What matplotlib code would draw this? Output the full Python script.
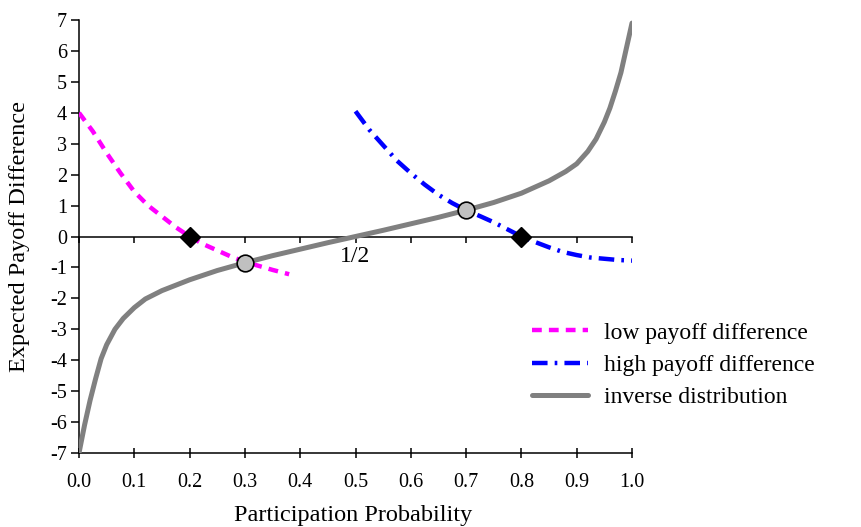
import numpy as np
import matplotlib
matplotlib.use('Agg')
import matplotlib.pyplot as plt

plt.rcParams['font.family'] = ['Liberation Serif', 'DejaVu Serif']

# inverse distribution
inv_x = [0.0, 0.01, 0.02, 0.03, 0.04, 0.05, 0.065, 0.08, 0.1, 0.12, 0.15, 0.2, 0.25, 0.3, 0.35, 0.4, 0.45,
         0.5, 0.55, 0.6, 0.65, 0.7, 0.75, 0.8, 0.85, 0.88, 0.9, 0.92, 0.935, 0.95, 0.96, 0.97, 0.98, 0.99, 1.0]
inv_y = [-7.0, -6.1, -5.3, -4.6, -3.95, -3.5, -3.0, -2.65, -2.3, -2.02, -1.75, -1.4, -1.1, -0.85, -0.62, -0.41, -0.2,
         0.0, 0.2, 0.41, 0.62, 0.85, 1.1, 1.4, 1.8, 2.1, 2.35, 2.75, 3.15, 3.7, 4.15, 4.7, 5.3, 6.1, 6.9]

# low payoff difference
low_x = [0.0, 0.025, 0.05, 0.075, 0.1, 0.125, 0.15, 0.175, 0.2, 0.225, 0.25, 0.275, 0.3, 0.325, 0.35, 0.38]
low_y = [4.0, 3.4, 2.7, 2.05, 1.45, 1.0, 0.65, 0.3, 0.0, -0.25, -0.45, -0.65, -0.82, -0.95, -1.08, -1.22]

# high payoff difference
high_x = [0.5, 0.525, 0.55, 0.575, 0.6, 0.625, 0.65, 0.675, 0.7, 0.725, 0.75, 0.775, 0.8,
          0.825, 0.85, 0.875, 0.9, 0.925, 0.95, 0.975, 1.0]
high_y = [4.05, 3.45, 2.95, 2.45, 2.05, 1.68, 1.35, 1.08, 0.85, 0.66, 0.46, 0.23, 0.0,
          -0.18, -0.35, -0.5, -0.6, -0.68, -0.72, -0.76, -0.78]

# marked points
cross_x = [0.2, 0.8]      # payoff difference = 0
cross_y = [0.0, 0.0]
eq_x = [0.3, 0.7]         # intersections with inverse distribution
eq_y = [-0.85, 0.85]

xticks = [0.0, 0.1, 0.2, 0.3, 0.4, 0.5, 0.6, 0.7, 0.8, 0.9, 1.0]
yticks = [7, 6, 5, 4, 3, 2, 1, 0, -1, -2, -3, -4, -5, -6, -7]

fig = plt.figure(figsize=(8.61, 5.27), dpi=100)
ax = fig.add_axes([79/861, 74/527, 553/861, 433/527])

ax.plot(low_x, low_y, color='#ff00ff', lw=3.2, ls=(0, (2.2, 1.6)), label='low payoff difference', zorder=3)
ax.plot(high_x, high_y, color='#0000ff', lw=3.2, ls=(0, (3.5, 1.6, 0.6, 1.6)), label='high payoff difference', zorder=3)
ax.plot(inv_x, inv_y, color='#808080', lw=3.6, solid_capstyle='round', label='inverse distribution', zorder=4)

ax.plot(cross_x, cross_y, ls='none', marker='D', ms=10, color='black', zorder=5)
ax.plot(eq_x, eq_y, ls='none', marker='o', ms=12, mfc='#c0c0c0', mec='black', mew=1.2, zorder=5)

ax.set_xlim(0, 1)
ax.set_ylim(-7, 7)
ax.set_xticks(xticks, [f'{t:.1f}' for t in xticks])
ax.set_yticks(yticks, [str(t) for t in yticks])
for s in ['top', 'right']:
    ax.spines[s].set_visible(False)
for s in ['left', 'bottom']:
    ax.spines[s].set_linewidth(1.1)
ax.tick_params(axis='x', direction='inout', length=7, width=1.1, pad=11, labelsize=14.5)
ax.tick_params(axis='y', direction='out', length=5.5, width=1.1, pad=3, labelsize=14.5)

# horizontal axis through zero
sec = ax.secondary_xaxis(0.5)
sec.set_alignment('bottom')
sec.set_xticks(xticks, ['' if t != 0.5 else '1/2' for t in xticks])
sec.spines['bottom'].set_linewidth(1.1)
sec.tick_params(direction='out', length=4, width=1.1, pad=3, labelsize=17)

ax.set_xlabel('Participation Probability', fontsize=17.5)
ax.xaxis.set_label_coords(0.495, (453-515)/433)
ax.xaxis.label.set_va('center')
ax.set_ylabel('Expected Payoff Difference', fontsize=17.5)
ax.yaxis.set_label_coords((20-79)/553, 0.5)
ax.yaxis.label.set_va('center')

fig.legend(loc='center left', bbox_to_anchor=(532/861, 1-365/527), frameon=False, fontsize=17,
           handlelength=2.37, handletextpad=0.68, labelspacing=0.45, borderpad=0, borderaxespad=0)

fig.savefig('out.png', dpi=100)
